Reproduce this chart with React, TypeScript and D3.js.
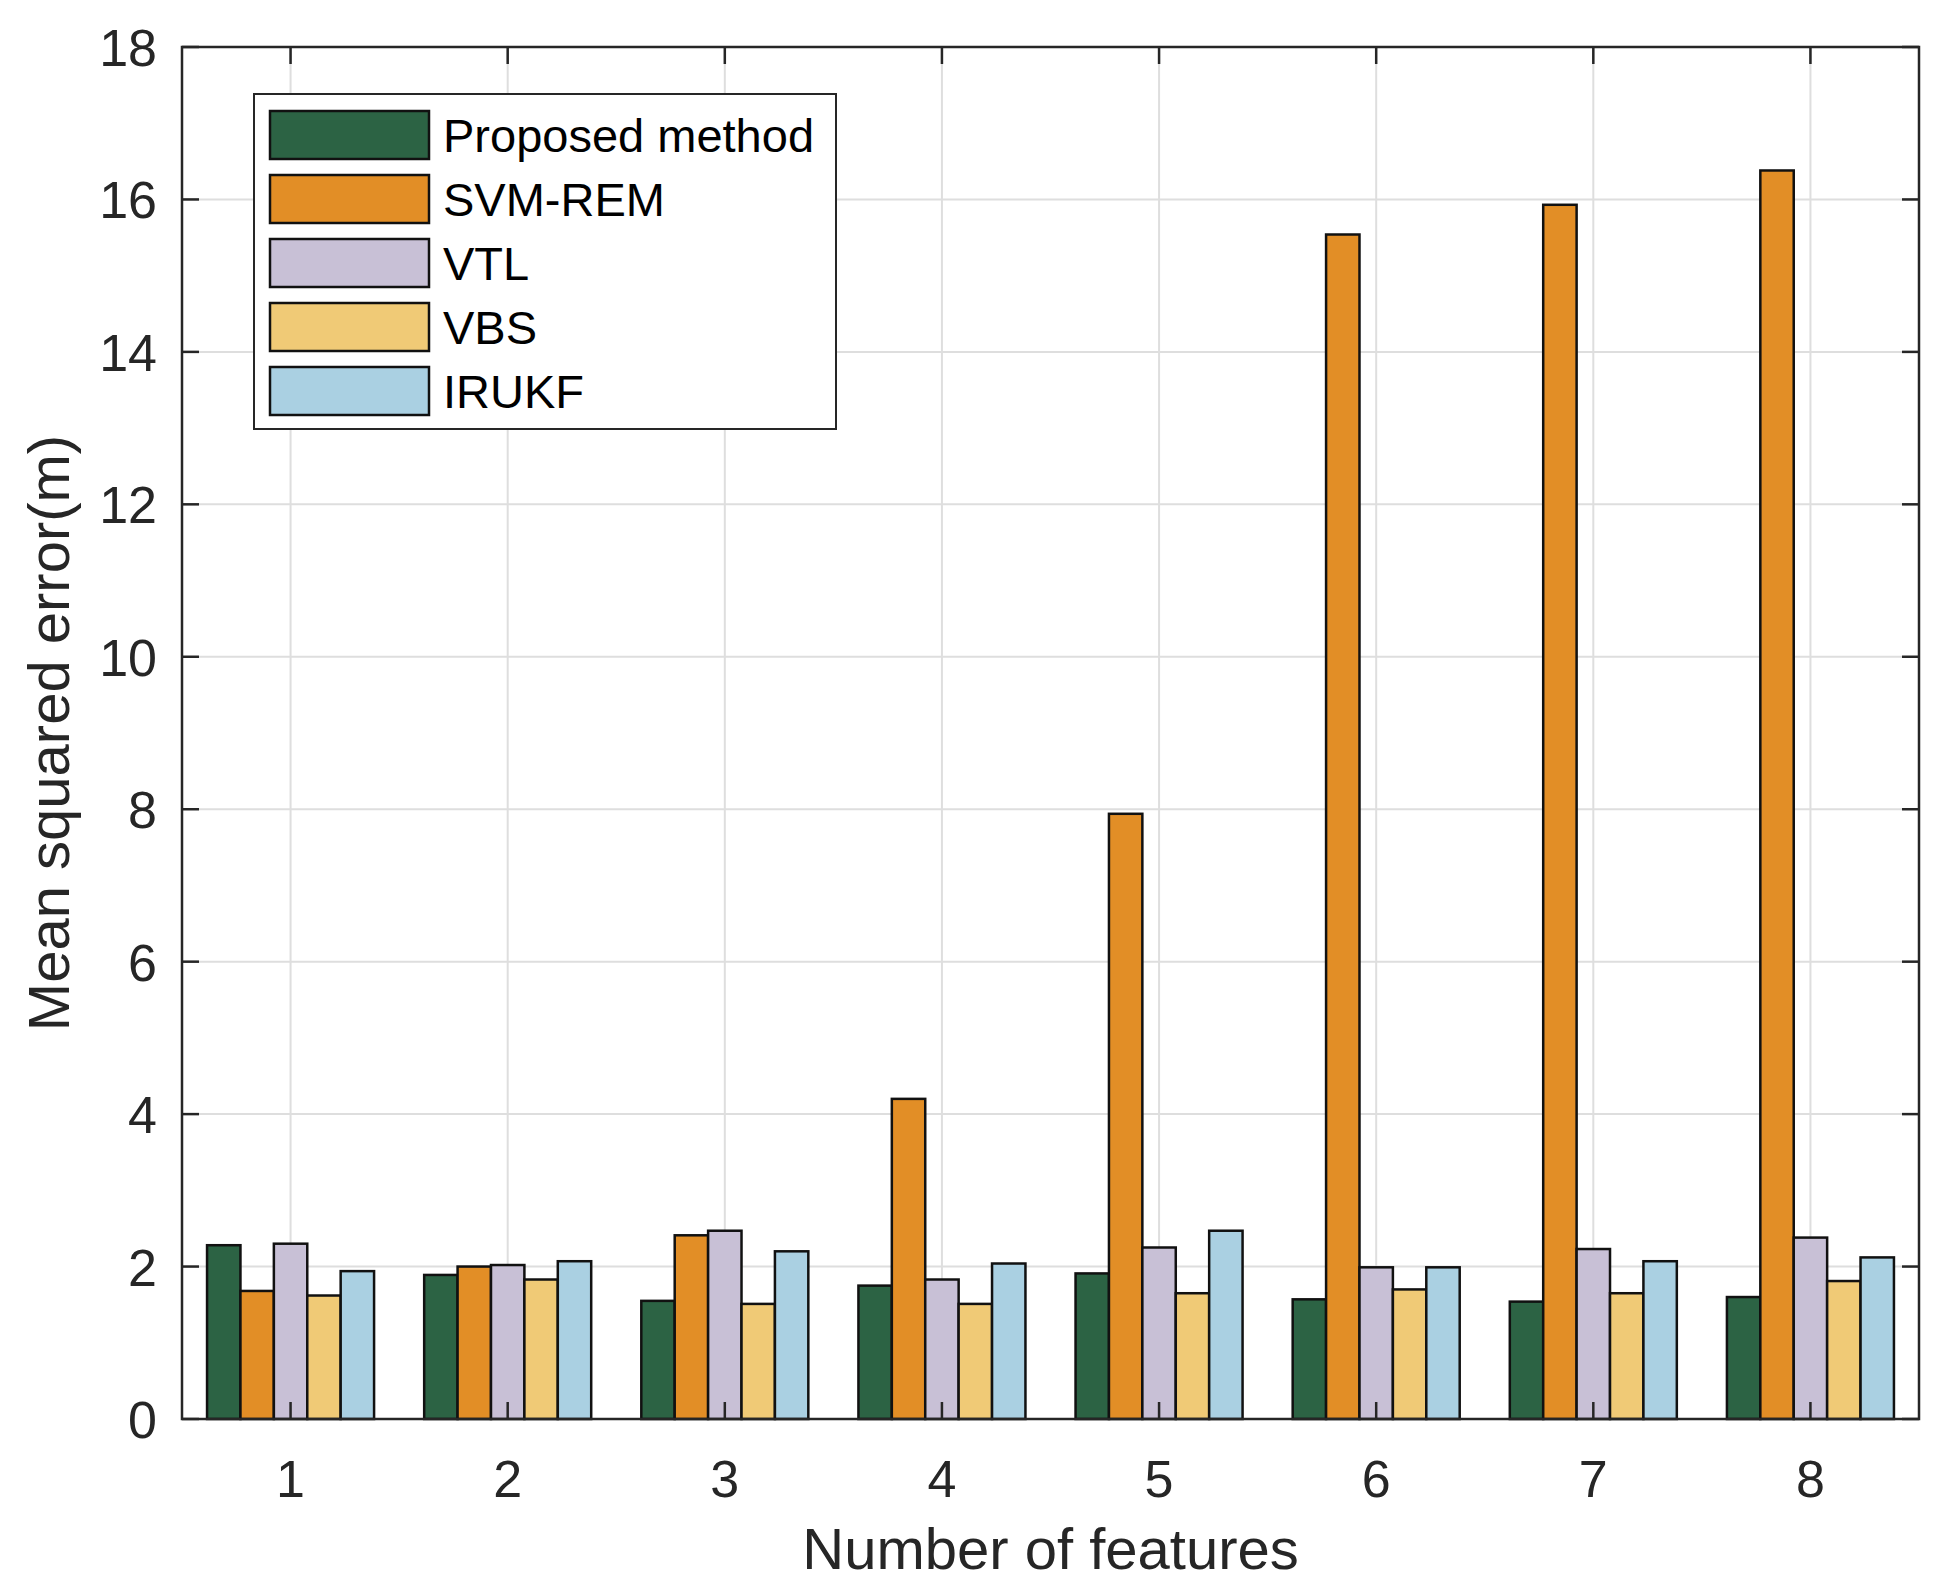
import React, { useRef, useEffect } from 'react';
import * as d3 from 'd3';

// Number of features (x categories)
const features = [1, 2, 3, 4, 5, 6, 7, 8];

const seriesNames = ['Proposed method', 'SVM-REM', 'VTL', 'VBS', 'IRUKF'];
const seriesColors = ['#2c6344', '#e28e26', '#c8c0d6', '#f0ca76', '#aad0e2'];

// Mean squared error (m), one array per method
const proposed = [2.28, 1.89, 1.55, 1.75, 1.91, 1.57, 1.54, 1.60];
const svmRem = [1.68, 2.0, 2.41, 4.2, 7.94, 15.54, 15.93, 16.38];
const vtl = [2.3, 2.02, 2.47, 1.83, 2.25, 1.99, 2.23, 2.38];
const vbs = [1.62, 1.83, 1.51, 1.51, 1.65, 1.7, 1.65, 1.81];
const irukf = [1.94, 2.07, 2.2, 2.04, 2.47, 1.99, 2.07, 2.12];

const yTicks = [0, 2, 4, 6, 8, 10, 12, 14, 16, 18];

const W = 1940;
const H = 1593;
const FONT = '"Liberation Sans", Arial, Helvetica, sans-serif';

const App: React.FC = () => {
  const svgRef = useRef<SVGSVGElement>(null);

  useEffect(() => {
    if (!svgRef.current) return;
    const svg = d3.select(svgRef.current);
    svg.selectAll('*').remove();

    const left = 182, right = 1919, top = 47, bottom = 1419;
    const axisColor = '#262626';

    const x = d3.scaleLinear().domain([0.5, 8.5]).range([left, right]);
    const y = d3.scaleLinear().domain([0, 18]).range([bottom, top]);

    const allSeries = [proposed, svmRem, vtl, vbs, irukf];
    const nSeries = allSeries.length;
    // MATLAB grouped bar layout: group width = n / (n + 1.5)
    const groupWidth = nSeries / (nSeries + 1.5);
    const barW = groupWidth / nSeries;

    svg.append('rect')
      .attr('width', W).attr('height', H).attr('fill', 'white');

    // grid
    const grid = svg.append('g');
    grid.selectAll('.gx').data(features).enter().append('line')
      .attr('x1', d => x(d)).attr('x2', d => x(d))
      .attr('y1', top).attr('y2', bottom)
      .attr('stroke', '#dedede').attr('stroke-width', 2);
    grid.selectAll('.gy').data(yTicks).enter().append('line')
      .attr('x1', left).attr('x2', right)
      .attr('y1', d => y(d)).attr('y2', d => y(d))
      .attr('stroke', '#dedede').attr('stroke-width', 2);

    // bars
    allSeries.forEach((values, si) => {
      const offset = (si - (nSeries - 1) / 2) * barW;
      svg.append('g').selectAll('rect').data(values).enter().append('rect')
        .attr('x', (_, i) => x(features[i] + offset - barW / 2))
        .attr('width', x(barW) - x(0))
        .attr('y', d => y(d))
        .attr('height', d => y(0) - y(d))
        .attr('fill', seriesColors[si])
        .attr('stroke', '#111')
        .attr('stroke-width', 2.5);
    });

    // box + ticks
    const tickLen = 17;
    const axes = svg.append('g').attr('stroke', axisColor).attr('stroke-width', 2.5);
    axes.append('rect')
      .attr('x', left).attr('y', top)
      .attr('width', right - left).attr('height', bottom - top)
      .attr('fill', 'none');
    features.forEach(f => {
      axes.append('line').attr('x1', x(f)).attr('x2', x(f)).attr('y1', bottom).attr('y2', bottom - tickLen);
      axes.append('line').attr('x1', x(f)).attr('x2', x(f)).attr('y1', top).attr('y2', top + tickLen);
    });
    yTicks.forEach(t => {
      axes.append('line').attr('x1', left).attr('x2', left + tickLen).attr('y1', y(t)).attr('y2', y(t));
      axes.append('line').attr('x1', right).attr('x2', right - tickLen).attr('y1', y(t)).attr('y2', y(t));
    });

    // tick labels
    svg.append('g').selectAll('text').data(features).enter().append('text')
      .attr('x', d => x(d)).attr('y', 1497)
      .attr('text-anchor', 'middle')
      .style('font-family', FONT).style('font-size', '52px').style('fill', axisColor)
      .text(d => d);
    svg.append('g').selectAll('text').data(yTicks).enter().append('text')
      .attr('x', 157).attr('y', d => y(d) + 19)
      .attr('text-anchor', 'end')
      .style('font-family', FONT).style('font-size', '52px').style('fill', axisColor)
      .text(d => d);

    // axis labels
    svg.append('text')
      .attr('x', (left + right) / 2).attr('y', 1569)
      .attr('text-anchor', 'middle')
      .style('font-family', FONT).style('font-size', '58px').style('fill', axisColor)
      .text('Number of features');
    svg.append('text')
      .attr('transform', `translate(69, ${(top + bottom) / 2}) rotate(-90)`)
      .attr('text-anchor', 'middle')
      .style('font-family', FONT).style('font-size', '58px').style('fill', axisColor)
      .text('Mean squared error(m)');

    // legend
    const legend = svg.append('g');
    legend.append('rect')
      .attr('x', 254).attr('y', 94).attr('width', 582).attr('height', 335)
      .attr('fill', 'white').attr('stroke', axisColor).attr('stroke-width', 2);
    seriesNames.forEach((name, i) => {
      const cy = 135 + i * 64;
      legend.append('rect')
        .attr('x', 270).attr('y', cy - 24).attr('width', 159).attr('height', 48)
        .attr('fill', seriesColors[i]).attr('stroke', '#111').attr('stroke-width', 2.5);
      legend.append('text')
        .attr('x', 443).attr('y', cy + 17)
        .style('font-family', FONT).style('font-size', '47px').style('fill', '#000')
        .text(name);
    });
  }, []);

  return (
    <svg
      ref={svgRef}
      width={W}
      height={H}
      style={{ position: 'absolute', left: 0, top: 0 }}
    />
  );
};

export default App;
